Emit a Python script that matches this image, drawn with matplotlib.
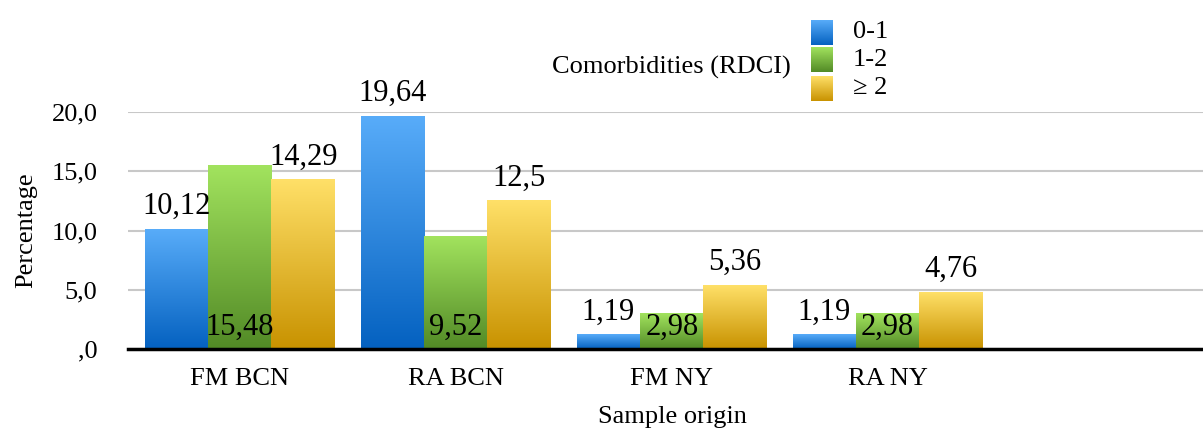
import numpy as np
import matplotlib
matplotlib.use("Agg")
import matplotlib.pyplot as plt
from matplotlib.colors import LinearSegmentedColormap

plt.rcParams['font.family'] = ['Liberation Serif', 'DejaVu Serif']

categories = ['FM BCN', 'RA BCN', 'FM NY', 'RA NY']
series_names = ['0-1', '1-2', '\u2265 2']
vals_01 = [10.12, 19.64, 1.19, 1.19]
vals_12 = [15.48, 9.52, 2.98, 2.98]
vals_2 = [14.29, 12.5, 5.36, 4.76]
yticks = [0, 5, 10, 15, 20]
ytick_labels = [',0', '5,0', '10,0', '15,0', '20,0']

# (top, bottom) colours of each gradient
grads = [('#58acf9', '#0461c0'), ('#a2e35e', '#528a26'), ('#ffe068', '#c89200')]

def fmt(v):
    return f"{v:g}".replace('.', ',')

fig = plt.figure(figsize=(12.03, 4.30), dpi=100)
ax = fig.add_axes([128/1203, 1-349/430, 1-128/1203, (349-112)/430])

x = np.arange(len(categories))
w = 0.293
grad_img = np.linspace(0, 1, 256).reshape(-1, 1)
allvals = [vals_01, vals_12, vals_2]
for i, vals in enumerate(allvals):
    cmap = LinearSegmentedColormap.from_list('g%d' % i, [grads[i][0], grads[i][1]])
    bars = ax.bar(x + (i-1)*w, vals, w, color='none', zorder=3)
    for b, v in zip(bars, vals):
        x0 = b.get_x()
        ax.imshow(grad_img, cmap=cmap, aspect='auto', zorder=3,
                  extent=[x0, x0 + b.get_width(), 0, b.get_height()])
        cx = x0 + b.get_width()/2
        if i == 1:
            ax.annotate(fmt(v), (cx, 0), xytext=(0, 5), textcoords='offset points',
                        ha='center', va='bottom', fontsize=22, zorder=5)
        else:
            ax.annotate(fmt(v), (cx, v), xytext=(0, 6), textcoords='offset points',
                        ha='center', va='bottom', fontsize=22, zorder=5)

ax.set_xlim(-0.518, 4.46)
ax.set_ylim(0, 20)
ax.set_yticks(yticks)
ax.set_yticklabels(ytick_labels, fontsize=19)
ax.set_xticks(x)
ax.set_xticklabels(categories, fontsize=19)
ax.tick_params(axis='both', length=0)
ax.tick_params(axis='y', pad=22)
ax.tick_params(axis='x', pad=14)
ax.grid(axis='y', color='#c8c8c8', lw=1.5, zorder=0)
ax.set_axisbelow(True)
for s in ['top', 'right', 'left']:
    ax.spines[s].set_visible(False)
ax.spines['bottom'].set_linewidth(2.5)
ax.spines['bottom'].set_zorder(6)

ax.set_ylabel('Percentage', fontsize=19)
ax.yaxis.set_label_coords(-(128-37)/1075, 0.5)
ax.set_xlabel('Sample origin', fontsize=19)
ax.xaxis.set_label_coords((672-128)/1075, -(406-349)/237)

# legend: gradient swatches with labels, title on the left
fig.text(552/1203, 1-67/430, 'Comorbidities (RDCI)', fontsize=19, ha='left', va='center')
sw_top = [20, 47, 76]
for i, name in enumerate(series_names):
    cmap = LinearSegmentedColormap.from_list('l%d' % i, [grads[i][0], grads[i][1]])
    lax = fig.add_axes([811/1203, 1-(sw_top[i]+25)/430, 22/1203, 25/430])
    lax.imshow(grad_img, cmap=cmap, aspect='auto')
    lax.axis('off')
    fig.text(853/1203, 1-(sw_top[i]+12.5)/430, name, fontsize=19, ha='left', va='center')

fig.savefig('out.png', dpi=100)
